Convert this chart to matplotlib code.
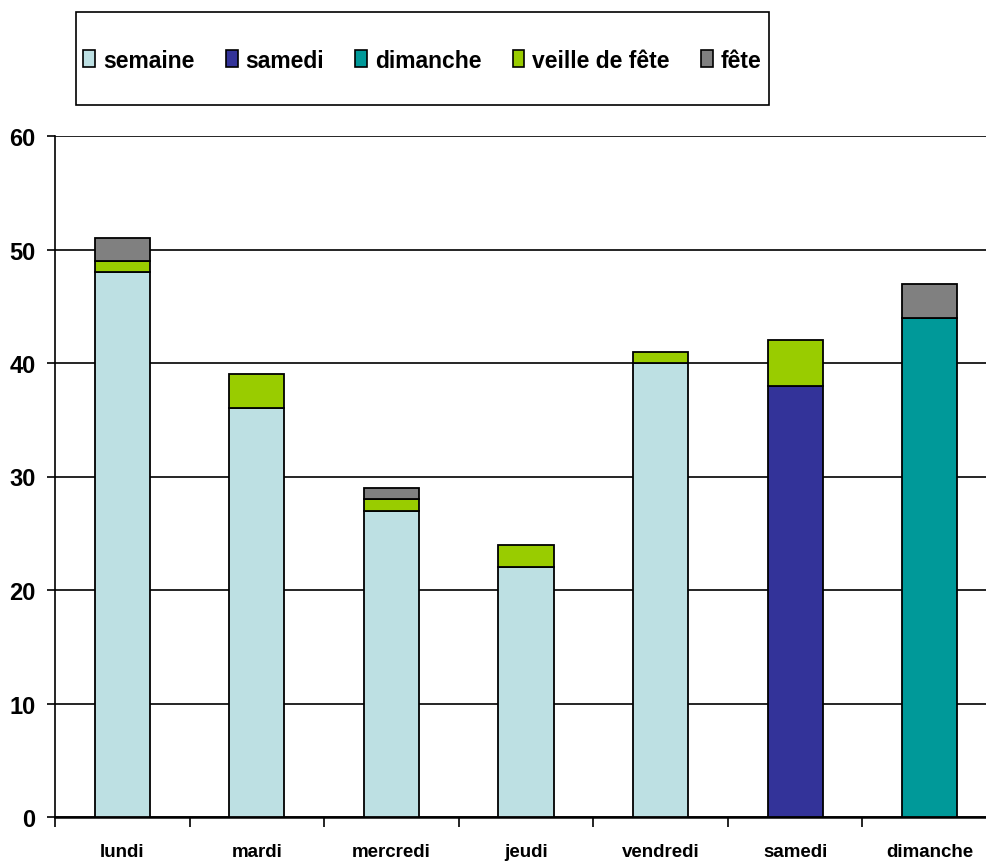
import matplotlib
matplotlib.use("Agg")
import matplotlib.pyplot as plt
from matplotlib.patches import Patch, Rectangle
import numpy as np
from matplotlib import font_manager

categories = ["lundi", "mardi", "mercredi", "jeudi", "vendredi", "samedi", "dimanche"]
series_names = ["semaine", "samedi", "dimanche", "veille de fête", "fête"]
semaine = [48, 36, 27, 22, 40, 0, 0]
samedi = [0, 0, 0, 0, 0, 38, 0]
dimanche = [0, 0, 0, 0, 0, 0, 44]
veille_de_fete = [1, 3, 1, 2, 1, 4, 0]
fete = [2, 0, 1, 0, 0, 0, 3]
y_ticks = [0, 10, 20, 30, 40, 50, 60]

colors = ["#BDE0E3", "#333399", "#009999", "#99CC00", "#808080"]

available = {f.name for f in font_manager.fontManager.ttflist}
family = "Liberation Sans Narrow" if "Liberation Sans Narrow" in available else "Liberation Sans"
plt.rcParams["font.family"] = [family, "DejaVu Sans"]
plt.rcParams["font.weight"] = "bold"

fig = plt.figure(figsize=(9.87, 8.62), dpi=100)
W, H = 987, 862
ax_left, ax_right, ax_top, ax_bottom = 55, 997, 137, 818
ax = fig.add_axes([ax_left / W, 1 - ax_bottom / H, (ax_right - ax_left) / W, (ax_bottom - ax_top) / H])

x = np.arange(len(categories))
bar_w = 0.41
bottom = np.zeros(len(categories))
for vals, col in zip([semaine, samedi, dimanche, veille_de_fete, fete], colors):
    vals = np.array(vals, dtype=float)
    idx = vals > 0
    ax.bar(x[idx], vals[idx], bar_w, bottom=bottom[idx], color=col,
           edgecolor="black", linewidth=1.3, zorder=3)
    bottom += vals

ax.set_xlim(-0.5, len(categories) - 0.5)
ax.set_ylim(0, 60)
ax.set_yticks(y_ticks)
ax.set_yticklabels([str(v) for v in y_ticks], fontsize=17, fontweight="bold")
ax.yaxis.grid(True, color="black", linewidth=1.2, zorder=0)
ax.set_axisbelow(True)

ax.set_xticks(x)
ax.set_xticklabels(categories, fontsize=13.5, fontweight="bold")
ax.tick_params(axis="x", which="major", length=0, pad=19)
ax.set_xticks(np.arange(len(categories) + 1) - 0.5, minor=True)
ax.tick_params(axis="x", which="minor", length=7, width=1.2, direction="out")
ax.tick_params(axis="y", length=6, width=1.2, direction="out", pad=8)

for side in ["top", "right"]:
    ax.spines[side].set_visible(False)
ax.spines["left"].set_linewidth(1.2)
ax.spines["bottom"].set_linewidth(1.8)

# legend box
lx0, ly0, lx1, ly1 = 76, 13, 769, 106
fig.patches.append(Rectangle((lx0 / W, 1 - ly1 / H), (lx1 - lx0) / W, (ly1 - ly0) / H,
                             transform=fig.transFigure, fill=False, edgecolor="black",
                             linewidth=1.2, zorder=5))
handles = [Patch(facecolor=c, edgecolor="black", linewidth=1.2) for c in colors]
fig.legend(handles, series_names, loc="center",
           bbox_to_anchor=((lx0 + lx1) / 2 / W, 1 - 61 / H),
           ncol=5, frameon=False, prop={"weight": "bold", "size": 16.5},
           handlelength=0.52, handleheight=0.7, handletextpad=0.35, columnspacing=1.35)

fig.savefig("out.png", dpi=100)
